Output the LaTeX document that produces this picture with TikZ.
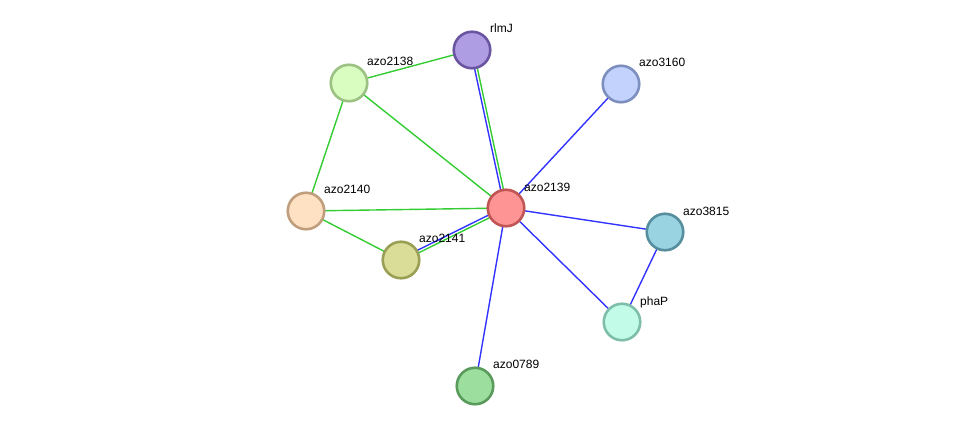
\documentclass[tikz,border=0pt]{standalone}
\usepackage{fontspec}
\setmainfont{Liberation Sans}
\usetikzlibrary{calc,backgrounds}
\definecolor{eg}{HTML}{33CC33}
\definecolor{eb}{HTML}{3333FF}
\tikzset{
  prot/.style={circle,minimum size=36.5pt,inner sep=0pt,line width=2.6pt},
  lab/.style={anchor=base west,inner sep=0pt,font=\fontsize{12}{14}\selectfont},
  eedge/.style={line width=1.4pt},
}
\begin{document}
\begin{tikzpicture}[x=1pt,y=-1pt]
\useasboundingbox (0,0) rectangle (975,431);
\node[prot,fill={rgb,255:red,175;green,157;blue,227},draw={rgb,255:red,106;green,85;blue,160}] (rlmJ) at (472,50) {};
\node[prot,fill={rgb,255:red,217;green,252;blue,193},draw={rgb,255:red,155;green,193;blue,131}] (a2138) at (349,83) {};
\node[prot,fill={rgb,255:red,194;green,210;blue,252},draw={rgb,255:red,124;green,143;blue,191}] (a3160) at (621,84) {};
\node[prot,fill={rgb,255:red,254;green,224;blue,194},draw={rgb,255:red,190;green,158;blue,124}] (a2140) at (306,211) {};
\node[prot,fill={rgb,255:red,255;green,148;blue,148},draw={rgb,255:red,192;green,85;blue,85}] (a2139) at (506,208) {};
\node[prot,fill={rgb,255:red,217;green,221;blue,152},draw={rgb,255:red,155;green,159;blue,85}] (a2141) at (401,260) {};
\node[prot,fill={rgb,255:red,153;green,210;blue,224},draw={rgb,255:red,86;green,142;blue,158}] (a3815) at (665,232) {};
\node[prot,fill={rgb,255:red,194;green,252;blue,232},draw={rgb,255:red,126;green,190;blue,170}] (phaP) at (622,322) {};
\node[prot,fill={rgb,255:red,156;green,222;blue,158},draw={rgb,255:red,90;green,154;blue,92}] (a0789) at (475,386) {};
\begin{scope}[on background layer]
\draw[eedge,eg] (a2138.center) -- (rlmJ.center);
\draw[eedge,eg] (a2138.center) -- (a2140.center);
\draw[eedge,eg] (a2138.center) -- (a2139.center);
\draw[eedge,eg] (a2140.center) -- (a2139.center);
\draw[eedge,eg] (a2140.center) -- (a2141.center);
\draw[eedge,eb] ($(rlmJ)!1.4pt!-90:(a2139)$) -- ($(a2139)!1.4pt!90:(rlmJ)$);
\draw[eedge,eg] ($(rlmJ)!1.4pt!90:(a2139)$) -- ($(a2139)!1.4pt!-90:(rlmJ)$);
\draw[eedge,eb] ($(a2141)!1.4pt!90:(a2139)$) -- ($(a2139)!1.4pt!-90:(a2141)$);
\draw[eedge,eg] ($(a2141)!1.4pt!-90:(a2139)$) -- ($(a2139)!1.4pt!90:(a2141)$);
\draw[eedge,eb] (a3160.center) -- (a2139.center);
\draw[eedge,eb] (a2139.center) -- (a3815.center);
\draw[eedge,eb] (a2139.center) -- (phaP.center);
\draw[eedge,eb] (a3815.center) -- (phaP.center);
\draw[eedge,eb] (a2139.center) -- (a0789.center);
\end{scope}
\node[lab] (lrlmJ) at (490,32) {rlmJ};
\node[lab] (l2138) at (367,65) {azo2138};
\node[lab] (l3160) at (639,66) {azo3160};
\node[lab] (l2140) at (324,193) {azo2140};
\node[lab] (l2139) at (524,191) {azo2139};
\node[lab] (l2141) at (419,242) {azo2141};
\node[lab] (l3815) at (683,215) {azo3815};
\node[lab] (lphaP) at (640,305) {phaP};
\node[lab] (l0789) at (493,368) {azo0789};
\end{tikzpicture}
\end{document}
